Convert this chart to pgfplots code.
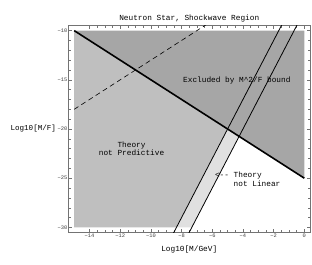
\documentclass[border=0pt]{standalone}
\usepackage{pgfplots}
\pgfplotsset{compat=1.18}
\usepackage{fontspec}
\setmainfont{Liberation Mono}
\definecolor{darkg}{gray}{0.65}
\definecolor{midg}{gray}{0.75}
\definecolor{lightg}{gray}{0.88}
\begin{document}
\begin{tikzpicture}
\useasboundingbox (0,0) rectangle (312bp,265bp);
\begin{axis}[name=ax, at={(68.5bp,32.7bp)}, anchor=south west,
  scale only axis, width=241.5bp, height=206.6bp,
  xmin=-15.37, xmax=0.37, ymin=-30.5, ymax=-9.5,
  xtick={-14,-12,-10,-8,-6,-4,-2,0},
  xticklabels={−14,−12,−10,−8,−6,−4,−2,0},
  ytick={-30,-25,-20,-15,-10},
  yticklabels={−30,−25,−20,−15,−10},
  minor x tick num=3, minor y tick num=4,
  tick align=inside, major tick length=3.5bp, minor tick length=2bp,
  axis line style={black!55, line width=0.5pt},
  every tick/.style={black!55, line width=0.4pt},
  tick label style={font=\fontsize{5.4}{6.5}\selectfont, text=black!75},
  xticklabel style={inner sep=1.2pt},
  yticklabel style={inner sep=1pt},
  /pgf/number format/assume math mode=true]
\addplot[fill=darkg, draw=none] coordinates {(-15,-10) (0,-10) (0,-25)} -- cycle;
\addplot[fill=midg, draw=none] coordinates {(-15,-10) (-5,-20) (-8.3333,-30) (-15,-30)} -- cycle;
\addplot[fill=lightg, draw=none] coordinates {(-5,-20) (-4.25,-20.75) (-7.3333,-30) (-8.3333,-30)} -- cycle;
\node[font=\fontsize{7.8}{9}\selectfont] at (axis cs:-4.4,-15.1) {Excluded by M\textasciicircum 2/F bound};
\node[font=\fontsize{7.8}{9}\selectfont, align=center, inner sep=0pt] at (axis cs:-11.26,-22.03) {Theory\\[-0.5pt]not Predictive};
\node[font=\fontsize{7.8}{9}\selectfont, align=left, anchor=west, inner sep=0pt] at (axis cs:-5.83,-25.1) {<-{}- Theory\\[-0.5pt]\phantom{<-{}- }not Linear};
\addplot[black, line width=0.6pt, dash pattern=on 5bp off 3.5bp] coordinates {(-15,-18) (-5,-8)};
\addplot[black, line width=0.8pt] coordinates {(-9,-32) (-1,-8)};
\addplot[black, line width=0.8pt] coordinates {(-8,-32) (0,-8)};
\addplot[black, line width=1.6pt] coordinates {(-15,-10) (0,-25)};
\end{axis}
\node[font=\fontsize{7.8}{9}\selectfont, yshift=7.4bp] at (ax.north) {Neutron Star, Shockwave Region};
\node[font=\fontsize{7.8}{9}\selectfont, yshift=-16.7bp] at (ax.south) {Log10[M/GeV]};
\node[font=\fontsize{7.6}{9}\selectfont, anchor=east, inner sep=0pt, xshift=-12.3bp] at (ax.west) {Log10[M/F]};
\end{tikzpicture}
\end{document}
